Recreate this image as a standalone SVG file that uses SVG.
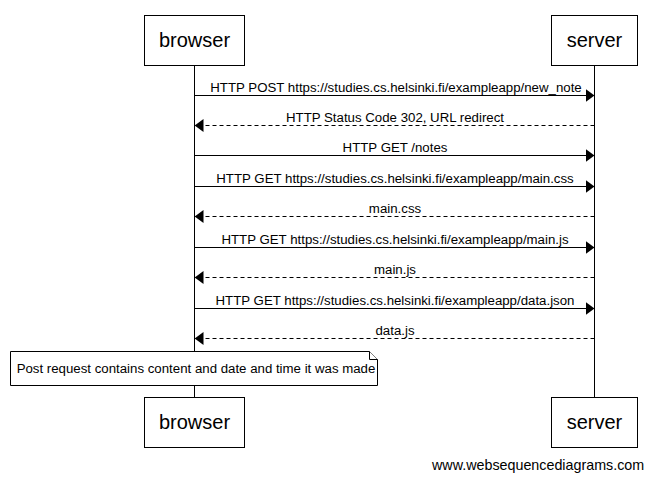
<svg xmlns="http://www.w3.org/2000/svg" width="652" height="480" viewBox="0 0 652 480">
<style>
.box{fill:#fff;stroke:#000;stroke-width:1}
.life{stroke:#000;stroke-width:1}
.actor{font-family:"Liberation Sans",Arial,sans-serif;font-size:20px;text-anchor:middle}
.lbl{font-family:"Liberation Sans",Arial,sans-serif;font-size:13.25px;text-anchor:middle}
.msg{stroke:#000;stroke-width:1;fill:none}
.ret{stroke:#000;stroke-width:1;fill:none;stroke-dasharray:4,3}
.note{fill:#fff;stroke:#000;stroke-width:1}
.foot{font-family:"Liberation Sans",Arial,sans-serif;font-size:14.3px}
</style>
<defs>
<marker id="ah" viewBox="0 0 9 13" refX="9" refY="6.5" markerWidth="9" markerHeight="13" markerUnits="userSpaceOnUse" orient="auto">
<path d="M0,0 L9,6.5 L0,13 Z" fill="#000"/>
</marker>
</defs>
<rect width="652" height="480" fill="#fff"/>
<g id="lifelines">
<line class="life" x1="194.5" y1="65" x2="194.5" y2="397"/>
<line class="life" x1="594.5" y1="65" x2="594.5" y2="397"/>
</g>
<g id="browser-top"><rect class="box" x="144.5" y="15.5" width="100" height="50"/><text class="actor" x="194.5" y="47">browser</text></g>
<g id="server-top"><rect class="box" x="551.5" y="15.5" width="86" height="50"/><text class="actor" x="594.5" y="47">server</text></g>
<g id="browser-bottom"><rect class="box" x="144.5" y="397.5" width="100" height="50"/><text class="actor" x="194.5" y="429">browser</text></g>
<g id="server-bottom"><rect class="box" x="551.5" y="397.5" width="86" height="50"/><text class="actor" x="594.5" y="429">server</text></g>
<g id="connectors">
<line class="msg" x1="194.5" y1="95.5" x2="594.5" y2="95.5" marker-end="url(#ah)"/>
<text class="lbl" x="396" y="91.5">HTTP POST https://studies.cs.helsinki.fi/exampleapp/new_note</text>
<line class="ret" x1="594.5" y1="125.5" x2="194.5" y2="125.5" marker-end="url(#ah)"/>
<text class="lbl" x="395" y="121.5">HTTP Status Code 302, URL redirect</text>
<line class="msg" x1="194.5" y1="155.5" x2="594.5" y2="155.5" marker-end="url(#ah)"/>
<text class="lbl" x="395" y="151.5">HTTP GET /notes</text>
<line class="msg" x1="194.5" y1="186.5" x2="594.5" y2="186.5" marker-end="url(#ah)"/>
<text class="lbl" x="395" y="182.5">HTTP GET https://studies.cs.helsinki.fi/exampleapp/main.css</text>
<line class="ret" x1="594.5" y1="216.5" x2="194.5" y2="216.5" marker-end="url(#ah)"/>
<text class="lbl" x="395" y="212.5">main.css</text>
<line class="msg" x1="194.5" y1="247.5" x2="594.5" y2="247.5" marker-end="url(#ah)"/>
<text class="lbl" x="395" y="243.5">HTTP GET https://studies.cs.helsinki.fi/exampleapp/main.js</text>
<line class="ret" x1="594.5" y1="277.5" x2="194.5" y2="277.5" marker-end="url(#ah)"/>
<text class="lbl" x="395" y="273.5">main.js</text>
<line class="msg" x1="194.5" y1="308.5" x2="594.5" y2="308.5" marker-end="url(#ah)"/>
<text class="lbl" x="395" y="304.5">HTTP GET https://studies.cs.helsinki.fi/exampleapp/data.json</text>
<line class="ret" x1="594.5" y1="338.5" x2="194.5" y2="338.5" marker-end="url(#ah)"/>
<text class="lbl" x="395" y="334.5">data.js</text>
</g>
<g id="note">
<path class="note" d="M10.5,351.5 H369.5 L377.5,359.5 V385.5 H10.5 Z"/>
<path class="note" d="M369.5,351.5 V359.5 H377.5"/>
<text class="lbl" x="196" y="372.5">Post request contains content and date and time it was made</text>
</g>
<text class="foot" x="432" y="470">www.websequencediagrams.com</text>
</svg>
